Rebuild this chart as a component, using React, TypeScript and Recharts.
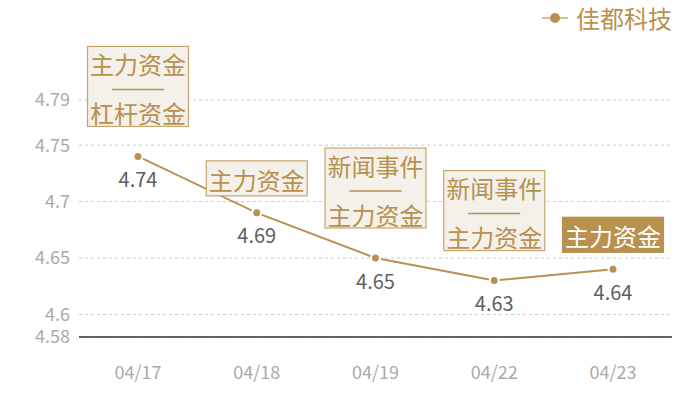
import { CartesianGrid, LabelList, Legend, Line, LineChart, XAxis, YAxis } from 'recharts'

document.body.style.margin = '0'

// values
const dates = ['04/17', '04/18', '04/19', '04/22', '04/23']
const prices = [4.74, 4.69, 4.65, 4.63, 4.64]
const eventTags = [
	['主力资金', '杠杆资金'],
	['主力资金'],
	['新闻事件', '主力资金'],
	['新闻事件', '主力资金'],
	['主力资金'],
]
const highlighted = [false, false, false, false, true]
const yTicks = [4.58, 4.6, 4.65, 4.7, 4.75, 4.79]
const seriesName = '佳都科技'

const data = dates.map((date, i) => ({ date, price: prices[i] }))

const GOLD = '#B8914F'
const FONT = '"Noto Sans CJK SC", "Noto Sans", sans-serif'

function TagBox(props: any) {
	const { x, y, index } = props
	const lines = eventTags[index]
	const hot = highlighted[index]
	const w = 101
	const h = lines.length > 1 ? 80 : 35
	const bottom = y - (lines.length > 1 ? 30 : 17)
	const top = bottom - h
	const left = x - w / 2
	const textColor = hot ? '#fff' : GOLD
	return (
		<g>
			<rect
				x={left}
				y={top}
				width={w}
				height={h}
				fill={hot ? GOLD : '#F4F0EA'}
				stroke={hot ? GOLD : '#C9A56E'}
				strokeWidth={1.2}
			/>
			{lines.length > 1 ? (
				<>
					<text x={x} y={top + 17} textAnchor='middle' dominantBaseline='central' fill={textColor} fontSize={24} fontFamily={FONT}>
						{lines[0]}
					</text>
					<line x1={x - 26} x2={x + 26} y1={top + 43} y2={top + 43} stroke={GOLD} strokeWidth={1.5} />
					<text x={x} y={top + 66} textAnchor='middle' dominantBaseline='central' fill={textColor} fontSize={24} fontFamily={FONT}>
						{lines[1]}
					</text>
				</>
			) : (
				<text x={x} y={top + h / 2 + 1} textAnchor='middle' dominantBaseline='central' fill={textColor} fontSize={24} fontFamily={FONT}>
					{lines[0]}
				</text>
			)}
		</g>
	)
}

function ValueLabel(props: any) {
	const { x, y, value } = props
	return (
		<text x={x} y={y + 22} textAnchor='middle' dominantBaseline='central' fill='#5f5f5f' fontSize={20} fontFamily={FONT}>
			{value}
		</text>
	)
}

function LegendBox() {
	return (
		<div style={{ display: 'flex', justifyContent: 'flex-end', alignItems: 'center', fontFamily: FONT, fontSize: 24, color: GOLD, lineHeight: '30px' }}>
			<svg width={28} height={14} style={{ marginRight: 6 }}>
				<line x1={0} x2={26} y1={7} y2={7} stroke='#D9BF94' strokeWidth={2} />
				<circle cx={13} cy={7} r={5} fill={GOLD} />
			</svg>
			<span>{seriesName}</span>
		</div>
	)
}

export default function App() {
	return (
		<LineChart width={700} height={400} data={data} margin={{ top: 70, right: 28, bottom: 23, left: 0 }}>
			<CartesianGrid vertical={false} stroke='#ccc' strokeDasharray='3 3' />
			<XAxis
				dataKey='date'
				padding={{ left: 59, right: 59 }}
				axisLine={{ stroke: '#333', strokeWidth: 1.5 }}
				tickLine={false}
				tickSize={0}
				tickMargin={29}
				height={40}
				tick={{ fill: '#aaa', fontSize: 18, fontFamily: FONT }}
			/>
			<YAxis
				domain={[4.58, 4.79]}
				ticks={yTicks}
				interval={0}
				width={79}
				axisLine={false}
				tickLine={false}
				tickSize={0}
				tickMargin={9}
				tick={{ fill: '#aaa', fontSize: 18, fontFamily: FONT }}
			/>
			<Legend
				verticalAlign='top'
				align='right'
				content={<LegendBox />}
				wrapperStyle={{ top: 3, left: 0, width: 672, height: 30 }}
			/>
			<Line
				type='linear'
				dataKey='price'
				name={seriesName}
				stroke={GOLD}
				strokeWidth={2}
				dot={{ r: 4.5, fill: GOLD, stroke: '#fff', strokeWidth: 2 }}
				isAnimationActive={false}
			>
				<LabelList dataKey='price' content={<ValueLabel />} />
				<LabelList dataKey='price' content={<TagBox />} />
			</Line>
		</LineChart>
	)
}
